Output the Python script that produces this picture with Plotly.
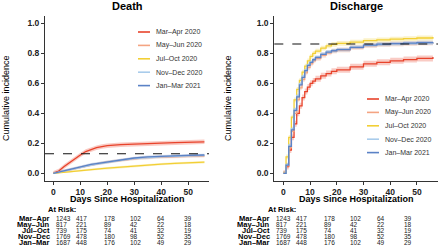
import plotly.graph_objects as go

W, H = 440, 247

series_names = ["Mar–Apr 2020", "May–Jun 2020", "Jul–Oct 2020", "Nov–Dec 2020", "Jan–Mar 2021"]
row_labels = ["Mar–Apr", "May–Jun", "Jul–Oct", "Nov–Dec", "Jan–Mar"]
colors = ["#E8432B", "#F4A482", "#F2CF35", "#A9CCEB", "#5B82C6"]
band_rgb = ["232,67,43", "244,164,130", "242,207,53", "169,204,235", "91,130,198"]

# Death cumulative incidence
death_days = [0, 2, 4, 6, 8, 10, 12, 14, 16, 18, 20, 25, 30, 35, 40, 45, 50, 56]
death_vals = [
    [0, 0.015, 0.045, 0.072, 0.100, 0.122, 0.145, 0.160, 0.171, 0.178, 0.184, 0.191, 0.196, 0.199, 0.201, 0.204, 0.207, 0.210],
    [0, 0.008, 0.017, 0.026, 0.034, 0.042, 0.050, 0.057, 0.063, 0.069, 0.075, 0.087, 0.097, 0.104, 0.108, 0.111, 0.113, 0.115],
    [0, 0.004, 0.008, 0.012, 0.016, 0.020, 0.023, 0.026, 0.029, 0.031, 0.034, 0.042, 0.049, 0.055, 0.061, 0.066, 0.070, 0.074],
    [0, 0.008, 0.017, 0.026, 0.034, 0.042, 0.050, 0.056, 0.062, 0.068, 0.074, 0.087, 0.098, 0.105, 0.110, 0.113, 0.116, 0.118],
    [0, 0.009, 0.018, 0.027, 0.036, 0.044, 0.052, 0.059, 0.065, 0.071, 0.077, 0.090, 0.102, 0.109, 0.114, 0.118, 0.120, 0.122],
]
death_ci = [0.015, 0.010, 0.008, 0.009, 0.009]
death_ref = 0.13

# Discharge cumulative incidence (step functions)
dis_days = [0, 1, 2, 3, 4, 5, 6, 7, 8, 9, 10, 11, 12, 14, 16, 18, 20, 25, 30, 35, 40, 45, 50, 56]
dis_vals = [
    [0, 0.045, 0.155, 0.240, 0.330, 0.400, 0.450, 0.505, 0.545, 0.575, 0.600, 0.615, 0.630, 0.650, 0.665, 0.680, 0.690, 0.710, 0.730, 0.740, 0.750, 0.758, 0.766, 0.775],
    [0, 0.050, 0.170, 0.280, 0.400, 0.490, 0.570, 0.625, 0.670, 0.705, 0.730, 0.750, 0.765, 0.787, 0.803, 0.814, 0.822, 0.838, 0.852, 0.858, 0.862, 0.865, 0.868, 0.871],
    [0, 0.110, 0.240, 0.375, 0.490, 0.560, 0.620, 0.675, 0.715, 0.750, 0.780, 0.800, 0.815, 0.835, 0.850, 0.860, 0.866, 0.875, 0.884, 0.890, 0.894, 0.898, 0.902, 0.908],
    [0, 0.060, 0.190, 0.300, 0.430, 0.520, 0.600, 0.650, 0.690, 0.725, 0.745, 0.760, 0.775, 0.795, 0.810, 0.818, 0.825, 0.840, 0.853, 0.858, 0.862, 0.865, 0.868, 0.870],
    [0, 0.055, 0.180, 0.290, 0.420, 0.510, 0.590, 0.640, 0.685, 0.720, 0.740, 0.757, 0.772, 0.793, 0.808, 0.817, 0.824, 0.840, 0.855, 0.861, 0.865, 0.868, 0.871, 0.874],
]
dis_ci = [0.020, 0.016, 0.016, 0.012, 0.012]
dis_ref = 0.862

# At-risk table
risk_days = [0, 10, 20, 30, 40, 50]
at_risk = [
    [1243, 417, 178, 102, 64, 39],
    [817, 221, 89, 42, 22, 18],
    [739, 175, 74, 41, 32, 19],
    [1769, 478, 180, 98, 52, 35],
    [1687, 448, 176, 102, 49, 29],
]

FONT = "Liberation Sans, Arial, sans-serif"
DARK = "#222222"

fig = go.Figure()


def px(x):
    return x / W


def py(y):
    return 1 - y / H


def add_panel(days, vals, ci, xa, ya, shape):
    for i in range(len(vals)):
        up = [v + ci[i] for v in vals[i]]
        lo = [max(v - ci[i], 0) for v in vals[i]]
        fig.add_trace(go.Scatter(x=days, y=up, mode="lines", line=dict(width=0, shape=shape),
                                 xaxis=xa, yaxis=ya, showlegend=False, hoverinfo="skip"))
        fig.add_trace(go.Scatter(x=days, y=lo, mode="lines", line=dict(width=0, shape=shape),
                                 fill="tonexty", fillcolor=f"rgba({band_rgb[i]},0.28)",
                                 xaxis=xa, yaxis=ya, showlegend=False, hoverinfo="skip"))
    for i in range(len(vals)):
        fig.add_trace(go.Scatter(x=days, y=vals[i], mode="lines", name=series_names[i],
                                 line=dict(color=colors[i], width=1.3, shape=shape),
                                 xaxis=xa, yaxis=ya, showlegend=False))


add_panel(death_days, death_vals, death_ci, "x", "y", "linear")
add_panel(dis_days, dis_vals, dis_ci, "x2", "y2", "hv")

ydom = [1 - 180.8 / H, 1 - 15.8 / H]
axis_common = dict(showline=True, linecolor="#333333", linewidth=1, ticks="outside", ticklen=3,
                   tickcolor="#333333", showgrid=False, zeroline=False,
                   tickfont=dict(family=FONT, size=8.5, color=DARK, weight="bold"))
fig.update_layout(
    xaxis=dict(domain=[px(45), px(209)], range=[-3.1, 57.7], tickvals=[0, 10, 20, 30, 40, 50],
               anchor="y", **axis_common),
    yaxis=dict(domain=ydom, range=[-0.05, 1.05], tickvals=[0, 0.2, 0.4, 0.6, 0.8, 1.0],
               tickformat=".1f", anchor="x", **axis_common),
    xaxis2=dict(domain=[px(274.3), px(438)], range=[-3.4, 57.9], tickvals=[0, 10, 20, 30, 40, 50],
                anchor="y2", **axis_common),
    yaxis2=dict(domain=ydom, range=[-0.05, 1.05], tickvals=[0, 0.2, 0.4, 0.6, 0.8, 1.0],
                tickformat=".1f", anchor="x2", **axis_common),
)

shapes = []
for xa, ref in (("x", death_ref), ("x2", dis_ref)):
    shapes.append(dict(type="line", xref=f"{xa} domain", x0=0, x1=1, yref=xa.replace("x", "y"),
                       y0=ref, y1=ref, line=dict(color="#111111", width=1.1, dash="dash")))

annotations = []
# titles
for cx, t in ((127, "Death"), (356, "Discharge")):
    annotations.append(dict(text=f"<b>{t}</b>", x=px(cx), y=py(6), xref="paper", yref="paper",
                            showarrow=False, xanchor="center", yanchor="middle",
                            font=dict(family=FONT, size=11, color="#000000")))
# x axis titles
for cx in (127, 356):
    annotations.append(dict(text="<b>Days Since Hospitalization</b>", x=px(cx), y=py(198.5),
                            xref="paper", yref="paper", showarrow=False, xanchor="center",
                            yanchor="middle", font=dict(family=FONT, size=9, color="#000000")))
# y axis titles
for cx in (6, 228):
    annotations.append(dict(text="Cumulative incidence", x=px(cx), y=py(98), xref="paper",
                            yref="paper", showarrow=False, textangle=-90, xanchor="center",
                            yanchor="middle", font=dict(family=FONT, size=9, color="#000000")))

# manual legends
leg_pos = [(138, 32), (367, 99)]
for li, (lx, ly) in enumerate(leg_pos):
    for i, nm in enumerate(series_names):
        yy = ly + i * 13.4
        shapes.append(dict(type="line", xref="paper", yref="paper", x0=px(lx), x1=px(lx + 12),
                           y0=py(yy), y1=py(yy),
                           line=dict(color=colors[i], width=1.6)))
        annotations.append(dict(text=nm, x=px(lx + 16), y=py(yy), xref="paper", yref="paper",
                                showarrow=False, xanchor="left", yanchor="middle",
                                font=dict(family=FONT, size=7, color="#333333")))

# at-risk tables
num_x = [54, 74, 102, 128, 155, 182]
row_y = [218.3, 224.0, 230.0, 236.2, 242.3]
for off in (0, 220):
    annotations.append(dict(text="<b>At Risk:</b>", x=px(46 + off), y=py(209), xref="paper",
                            yref="paper", showarrow=False, xanchor="left", yanchor="middle",
                            font=dict(family=FONT, size=7.5, color="#000000")))
    for r, lab in enumerate(row_labels):
        annotations.append(dict(text=f"<b>{lab}</b>", x=px(52 + off), y=py(row_y[r]), xref="paper",
                                yref="paper", showarrow=False, xanchor="right", yanchor="middle",
                                font=dict(family=FONT, size=7.5, color="#000000")))
        for c, d in enumerate(risk_days):
            annotations.append(dict(text=str(at_risk[r][c]), x=px(num_x[c] + off), y=py(row_y[r]),
                                    xref="paper", yref="paper", showarrow=False, xanchor="left",
                                    yanchor="middle",
                                    font=dict(family=FONT, size=6.5, color="#222222")))

fig.update_layout(
    width=W, height=H, margin=dict(l=0, r=0, t=0, b=0),
    paper_bgcolor="white", plot_bgcolor="white",
    shapes=shapes, annotations=annotations, showlegend=False,
)

fig.write_html(
    "out.html",
    config={"displayModeBar": False},
    post_script="document.body.style.margin='0';document.body.style.padding='0';"
                "document.documentElement.style.overflow='hidden';",
)
